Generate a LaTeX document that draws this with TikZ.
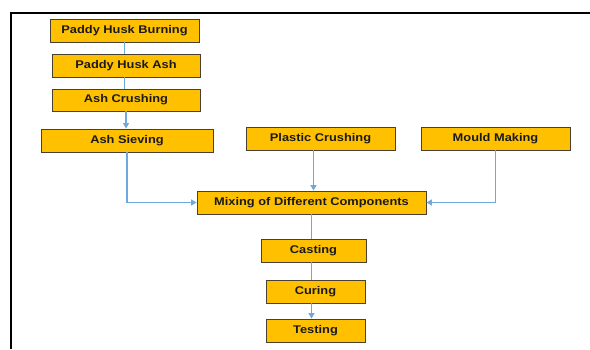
\documentclass[tikz,border=0pt]{standalone}
\usepackage{fontspec}
\setmainfont{Liberation Sans}
\newfontfamily\boxfont[FakeStretch=1.15]{Liberation Sans}
\usetikzlibrary{arrows.meta}
\definecolor{boxfill}{HTML}{FFC000}
\definecolor{boxline}{HTML}{4A4030}
\definecolor{arrblue}{HTML}{6FA8DC}
\definecolor{txt}{HTML}{1A1A1A}
\tikzset{
  stepbox/.style={draw=boxline, line width=0.9pt, fill=boxfill, inner sep=0pt,
    minimum height=23bp, text=txt, font=\boxfont\bfseries\fontsize{11.2}{13}\selectfont},
  conn/.style={draw=arrblue, line width=1.2pt},
  arr/.style={conn, -{Triangle[length=5.5pt,width=6pt]}},
  frame/.style={draw=black, line width=2pt}
}
\begin{document}
\begin{tikzpicture}[x=1bp,y=-1bp]
\useasboundingbox (0,0) rectangle (590,349);
\fill[white] (0,0) rectangle (590,349);
\coordinate (ftl) at (11,13);
\coordinate (ftr) at (590,13);
\coordinate (fbl) at (11,349);
\draw[frame] (ftr) -- (ftl) -- (fbl);

\node[stepbox, minimum width=149bp] (burn) at (124.5,30.5) {Paddy Husk Burning};
\node[stepbox, minimum width=148bp] (ash) at (126,65.5) {Paddy Husk Ash};
\node[stepbox, minimum width=148bp, minimum height=22bp] (crush) at (126,100) {Ash Crushing};
\node[stepbox, minimum width=172bp] (sieve) at (127,140.5) {Ash Sieving};
\node[stepbox, minimum width=149bp] (plastic) at (320.5,138.5) {Plastic Crushing};
\node[stepbox, minimum width=149bp] (mould) at (495.5,138.5) {Mould Making};
\node[stepbox, minimum width=229bp] (mix) at (311.5,202.5) {Mixing of Different Components};
\node[stepbox, minimum width=105bp] (cast) at (313.5,250.5) {Casting};
\node[stepbox, minimum width=99bp] (cure) at (315.5,291.5) {Curing};
\node[stepbox, minimum width=99bp] (test) at (315.5,330.5) {Testing};

\draw[conn] (burn.south) -- (burn.south |- ash.north);
\draw[conn] (burn.south |- ash.south) -- (burn.south |- crush.north);
\draw[arr] (crush.south) -- (crush.south |- sieve.north);
\draw[arr] (sieve.south) |- (mix.west);
\draw[arr] (plastic.south -| cast) -- (cast |- mix.north);
\draw[arr] (mould.south) |- (mix.east);
\draw[conn] (mix.south) -- (mix.south |- cast.north);
\draw[conn] (mix.south |- cast.south) -- (mix.south |- cure.north);
\draw[arr] (mix.south |- cure.south) -- (mix.south |- test.north);
\end{tikzpicture}
\end{document}
